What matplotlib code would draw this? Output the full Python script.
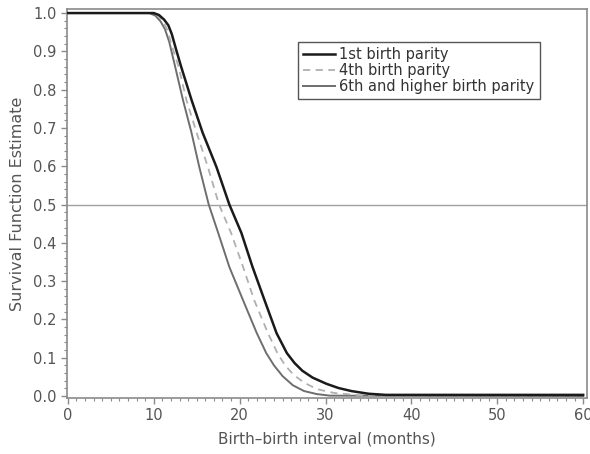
import matplotlib.pyplot as plt
from matplotlib.ticker import MultipleLocator

# Survival curves (months, survival estimate)
t_first = [0, 10.0, 10.6, 11.2, 11.7, 12.1, 12.6, 13.2, 14.4, 15.7, 17.3, 18.8, 20.2, 21.5, 22.9, 24.3,
           25.5, 26.4, 27.3, 28.5, 30.1, 31.5, 33.0, 35.0, 37.0, 60]
s_first = [1.0, 1.0, 0.995, 0.983, 0.968, 0.945, 0.905, 0.859, 0.773, 0.687, 0.598, 0.5, 0.426, 0.337, 0.25, 0.164,
           0.112, 0.086, 0.066, 0.048, 0.032, 0.021, 0.013, 0.006, 0.003, 0.003]

t_fourth = [0, 9.8, 10.5, 11.1, 11.6, 12.1, 12.9, 13.8, 15.0, 16.3, 17.6, 19.0, 20.4, 21.7, 23.3, 24.4,
            25.3, 26.3, 27.5, 29.0, 31.0, 34.0, 60]
s_fourth = [1.0, 1.0, 0.993, 0.978, 0.955, 0.915, 0.859, 0.773, 0.687, 0.598, 0.5, 0.426, 0.337, 0.25, 0.164, 0.112,
            0.080, 0.055, 0.035, 0.018, 0.008, 0.002, 0.002]

t_sixth = [0, 9.5, 10.2, 10.8, 11.3, 11.8, 12.5, 13.4, 14.4, 15.3, 16.4, 17.5, 18.8, 20.4, 22.0, 23.1,
           24.0, 25.0, 26.2, 27.5, 29.0, 30.5, 60]
s_sixth = [1.0, 1.0, 0.993, 0.978, 0.958, 0.925, 0.859, 0.773, 0.687, 0.598, 0.5, 0.426, 0.337, 0.25, 0.164, 0.112,
           0.080, 0.052, 0.028, 0.013, 0.005, 0.001, 0.0]

labels = ['1st birth parity', '4th birth parity', '6th and higher birth parity']

txt = '#555555'
frame = '#8a8a8a'

fig = plt.figure(figsize=(5.9, 4.54), dpi=100)
ax = fig.add_axes([0.1136, 0.1233, 0.8814, 0.8567])

ax.axhline(0.5, color='#a0a0a0', lw=1.0, zorder=1)
ax.plot(t_first, s_first, color='#1a1a1a', lw=1.8, label=labels[0], zorder=4)
ax.plot(t_fourth, s_fourth, color='#b0b0b0', lw=1.3, ls=(0, (4, 3)), label=labels[1], zorder=3)
ax.plot(t_sixth, s_sixth, color='#6e6e6e', lw=1.4, label=labels[2], zorder=2)

ax.set_xlim(-0.1, 60.45)
ax.set_ylim(-0.0052, 1.0104)
ax.xaxis.set_major_locator(MultipleLocator(10))
ax.xaxis.set_minor_locator(MultipleLocator(1))
ax.yaxis.set_major_locator(MultipleLocator(0.1))
ax.yaxis.set_minor_locator(MultipleLocator(0.02))
ax.yaxis.set_major_formatter(plt.FuncFormatter(lambda v, p: f'{v:.1f}'))

for s in ax.spines.values():
    s.set_color(frame)
    s.set_linewidth(1.2)
ax.tick_params(which='major', length=4, width=1, color=frame, labelcolor=txt, labelsize=10.5)
ax.tick_params(which='minor', length=2, width=0.8, color=frame)

ax.set_xlabel('Birth\u2013birth interval (months)', color=txt, fontsize=11, labelpad=6)
ax.set_ylabel('Survival Function Estimate', color=txt, fontsize=11.5, labelpad=6)

leg = ax.legend(loc='upper left', bbox_to_anchor=(0.444, 0.915), borderaxespad=0,
                fancybox=False, framealpha=1, edgecolor='#555555', fontsize=10.5,
                handlelength=2.2, handletextpad=0.3, labelspacing=0.05,
                borderpad=0.35)
leg.get_frame().set_linewidth(1.0)
for t in leg.get_texts():
    t.set_color('#333333')

fig.savefig('out.png', dpi=100)
